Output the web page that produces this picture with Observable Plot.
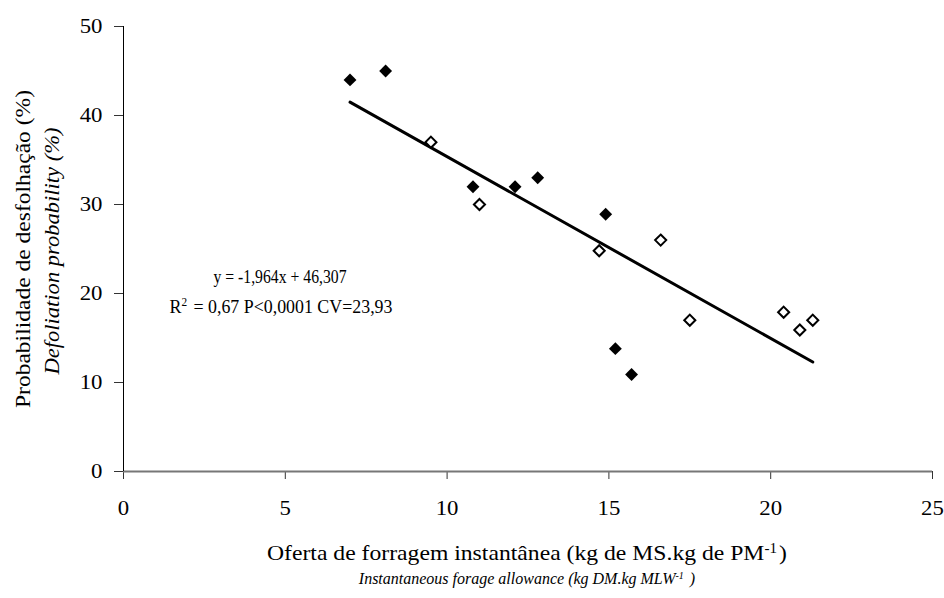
<!DOCTYPE html>
<html>
<head>
<meta charset="utf-8">
<script src="https://cdn.jsdelivr.net/npm/d3@7"></script>
<script src="https://cdn.jsdelivr.net/npm/@observablehq/plot@0.6"></script>
<style>
  html, body { margin: 0; padding: 0; background: #fff; }
  #chart { width: 944px; height: 598px; }
</style>
</head>
<body>
<div id="chart"></div>
<script>
// Grazing group 1 (filled diamonds)
const filledX = [7.0, 8.1, 10.8, 12.1, 12.8, 14.9, 15.2, 15.7];
const filledY = [44.0, 45.0, 32.0, 32.0, 33.0, 28.9, 13.8, 10.9];
// Grazing group 2 (open diamonds)
const openX = [9.5, 11.0, 14.7, 16.6, 17.5, 20.4, 20.9, 21.3];
const openY = [37.0, 30.0, 24.8, 26.0, 17.0, 17.9, 15.9, 17.0];
// Fitted line as drawn
const trendX = [7.0, 21.3];
const trendY = [41.5, 12.3];
// Axis ticks
const xTicks = [0, 5, 10, 15, 20, 25];
const yTicks = [0, 10, 20, 30, 40, 50];

const filled = filledX.map((x, i) => ({x, y: filledY[i]}));
const open = openX.map((x, i) => ({x, y: openY[i]}));
const trend = trendX.map((x, i) => ({x, y: trendY[i]}));

const FONT = "Liberation Serif, Times New Roman, serif";

const plot = Plot.plot({
  width: 944,
  height: 598,
  marginLeft: 123,
  marginRight: 12,
  marginTop: 26,
  marginBottom: 127,
  x: {domain: [0, 25]},
  y: {domain: [0, 50]},
  style: {fontFamily: FONT, fontSize: "20px", color: "#000", background: "#fff", overflow: "visible"},
  marks: [
    Plot.axisX({ticks: xTicks, tickSize: 8, tickPadding: 21, label: null, stroke: "#333"}),
    Plot.axisY({ticks: yTicks, tickSize: 9, tickPadding: 12, label: null, stroke: "#333"}),
    Plot.ruleY([0], {stroke: "#777", strokeWidth: 2}),
    Plot.ruleX([0], {stroke: "#000", strokeWidth: 1}),
    Plot.line(trend, {x: "x", y: "y", stroke: "#000", strokeWidth: 3}),
    Plot.dot(filled, {x: "x", y: "y", symbol: "diamond2", r: 5.8, fill: "#000", stroke: "none"}),
    Plot.dot(open, {x: "x", y: "y", symbol: "diamond2", r: 5.0, fill: "#fff", stroke: "#000", strokeWidth: 2})
  ]
});
document.getElementById("chart").appendChild(plot);

const svg = d3.select(plot);

// tick labels are a little wider than plain Times in the reference
svg.selectAll("g[aria-label='x-axis tick label'] text, g[aria-label='y-axis tick label'] text").each(function() {
  const n = this.textContent.length;
  this.setAttribute("textLength", 11.4 * n);
  this.setAttribute("lengthAdjust", "spacingAndGlyphs");
});

function addText(opts, parts) {
  const size = opts.size || 18;
  const t = svg.append("text")
    .attr("x", opts.x).attr("y", opts.y)
    .attr("text-anchor", "middle")
    .attr("dy", "0.35em")
    .style("font-family", FONT)
    .style("font-size", size + "px")
    .style("font-style", opts.italic ? "italic" : "normal")
    .attr("fill", "#000");
  if (opts.rotate) t.attr("transform", `rotate(-90 ${opts.x} ${opts.y})`);
  let afterSup = false;
  for (const p of parts) {
    if (typeof p === "string") {
      const ts = t.append("tspan").text(p);
      if (afterSup) ts.attr("dx", 2);
      afterSup = false;
    } else {
      t.append("tspan").style("font-size", Math.round(size * 0.62) + "px").attr("baseline-shift", "super").text(p.sup);
      afterSup = true;
    }
  }
  if (opts.len) t.attr("textLength", opts.len).attr("lengthAdjust", "spacingAndGlyphs");
  return t;
}

// Regression annotation
addText({x: 280, y: 276, len: 133, size: 19}, ["y = -1,964x + 46,307"]);
addText({x: 281, y: 306, len: 223, size: 19}, ["R", {sup: "2"}, " = 0,67 P<0,0001 CV=23,93"]);

// X axis titles
addText({x: 527, y: 552, len: 520, size: 22}, ["Oferta de forragem instantânea (kg de MS.kg de PM", {sup: "-1"}, ")"]);
addText({x: 527, y: 578, size: 16, italic: true}, ["Instantaneous forage allowance (kg DM.kg MLW", {sup: "-1"}, " )"]);

// Y axis titles
addText({x: 22, y: 249, len: 318, size: 22, rotate: true}, ["Probabilidade de desfolhação (%)"]);
addText({x: 52, y: 251, len: 247, size: 20, rotate: true, italic: true}, ["Defoliation probability (%)"]);
</script>
</body>
</html>
